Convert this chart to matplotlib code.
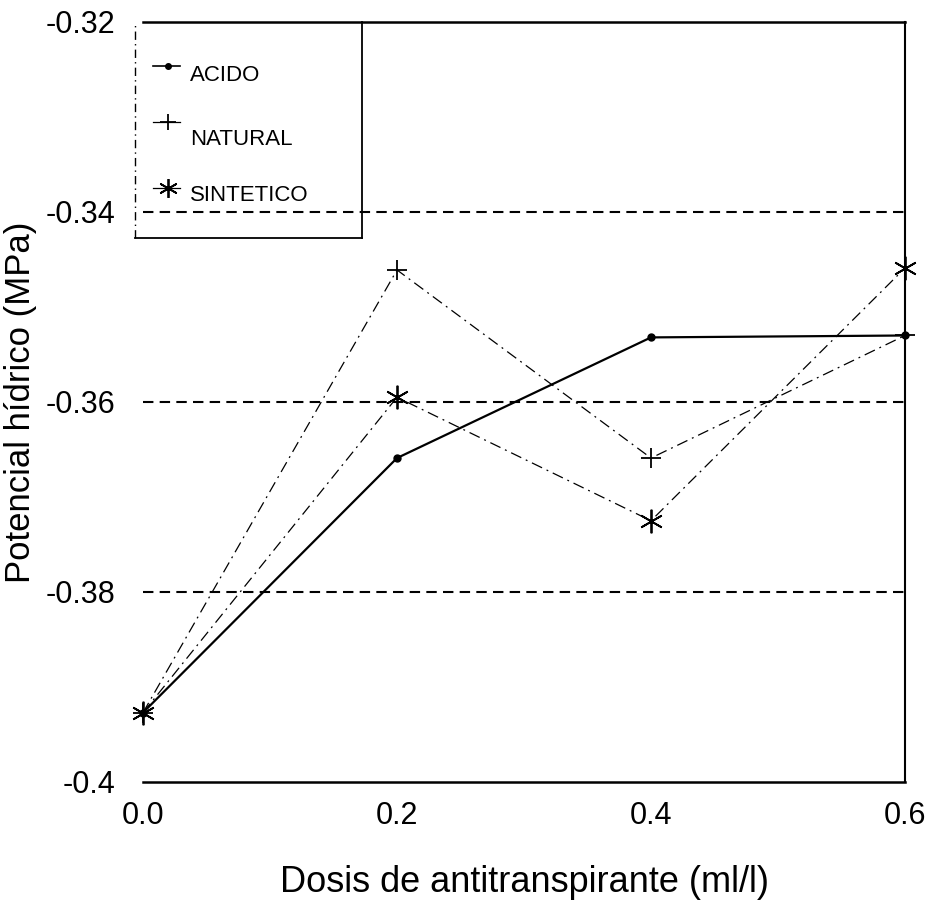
import matplotlib
matplotlib.use("Agg")
import matplotlib.pyplot as plt
from matplotlib.lines import Line2D

# Dose of antitranspirant (ml/l) and leaf water potential (MPa) per product
dosis = [0.0, 0.2, 0.4, 0.6]
acido = [-0.3927, -0.3659, -0.3532, -0.3530]
natural = [-0.3927, -0.3461, -0.3659, -0.3530]
sintetico = [-0.3927, -0.3595, -0.3725, -0.3459]

series_names = ["ACIDO", "NATURAL", "SINTETICO"]
x_ticks = [0.0, 0.2, 0.4, 0.6]
x_tick_labels = ["0.0", "0.2", "0.4", "0.6"]
y_ticks = [-0.4, -0.38, -0.36, -0.34, -0.32]
y_tick_labels = ["-0.4", "-0.38", "-0.36", "-0.34", "-0.32"]
grid_levels = [-0.38, -0.36, -0.34]

plt.rcParams["font.family"] = ["Liberation Sans", "DejaVu Sans"]

W, H = 938, 908
fig = plt.figure(figsize=(W / 100, H / 100), dpi=100)
ax = fig.add_axes([143 / W, 1 - 782 / H, 762 / W, 760 / H])

ax.set_xlim(0.0, 0.6)
ax.set_ylim(-0.4, -0.32)

# dashed reference levels
for lvl in grid_levels:
    ax.axhline(lvl, color="black", lw=1.5, ls=(0, (5, 3)), zorder=1)

dashdot = (0, (9, 4, 1.5, 4))
styles = {
    "ACIDO": dict(color="black", lw=1.6, ls="-", marker="o", ms=5, mew=1),
    "NATURAL": dict(color="black", lw=0.9, ls=dashdot, marker="+", ms=15, mew=1.3),
    "SINTETICO": dict(color="black", lw=0.9, ls=dashdot, marker=(6, 2, 0), ms=17, mew=1.3),
}
values = {"ACIDO": acido, "NATURAL": natural, "SINTETICO": sintetico}
for name in series_names:
    ax.plot(dosis, values[name], zorder=3, clip_on=False, **styles[name])

# frame: solid top, bottom and right edges, no left edge
ax.spines["left"].set_visible(False)
for side, lw in (("top", 1.8), ("bottom", 1.8), ("right", 1.5)):
    ax.spines[side].set_linewidth(lw)
    ax.spines[side].set_color("black")

ax.set_xticks(x_ticks)
ax.set_xticklabels(x_tick_labels)
ax.set_yticks(y_ticks)
ax.set_yticklabels(y_tick_labels)
ax.tick_params(axis="both", length=0, labelsize=22)
ax.tick_params(axis="x", pad=14)
ax.tick_params(axis="y", pad=20)

ax.set_xlabel("Dosis de antitranspirante (ml/l)", fontsize=26, labelpad=24)
ax.set_ylabel("Potencial hídrico (MPa)", fontsize=25, labelpad=6)

# legend box in the upper-left corner
tr = ax.transAxes
x0, x1, y0, y1 = -0.0105, 0.2874, 0.716, 1.0
ax.add_line(Line2D([x0, x0], [y0, y1], transform=tr, color="black", lw=1.0,
                   ls=(0, (6, 3, 1, 3)), clip_on=False, zorder=4))
ax.add_line(Line2D([x0, x1], [y0, y0], transform=tr, color="black", lw=1.3,
                   clip_on=False, zorder=4))
ax.add_line(Line2D([x1, x1], [y0, y1], transform=tr, color="black", lw=1.3,
                   clip_on=False, zorder=4))

handle_y = [0.942, 0.868, 0.782]
text_y = [0.929, 0.846, 0.772]
for name, hy, ty in zip(series_names, handle_y, text_y):
    st = dict(styles[name])
    marker = st.pop("marker")
    ms = st.pop("ms")
    mew = st.pop("mew")
    ax.add_line(Line2D([0.013, 0.049], [hy, hy], transform=tr, color="black",
                       lw=1.2 if name == "ACIDO" else 0.9, clip_on=False, zorder=5))
    ax.add_line(Line2D([0.033], [hy], transform=tr, color="black", marker=marker,
                       ms=ms * 0.8, mew=mew, ls="none", clip_on=False, zorder=5))
    ax.text(0.0617, ty, name, transform=tr, fontsize=16, va="center", ha="left")

fig.savefig("out.png", dpi=100)
